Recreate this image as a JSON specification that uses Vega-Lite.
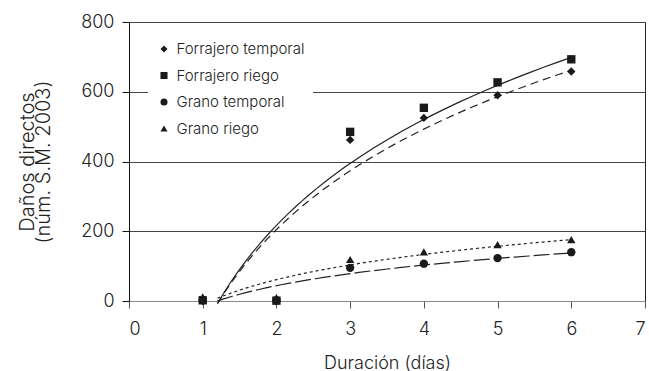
{
  "$schema": "https://vega.github.io/schema/vega-lite/v6.json",
  "width": 516,
  "height": 279,
  "autosize": {"type": "none"},
  "padding": {"left": 129, "top": 22, "right": 4, "bottom": 70},
  "background": "white",
  "config": {
    "view": {"stroke": "#222", "strokeWidth": 1},
    "axis": {
      "labelFont": "Inter",
      "titleFont": "Inter",
      "labelFontWeight": 300,
      "titleFontWeight": 300,
      "labelColor": "#222",
      "titleColor": "#222",
      "labelFontSize": 18
    },
    "line": {"color": "#222", "strokeWidth": 1.2, "clip": true}
  },
  "data": {
    "values": [
      {"serie": "Forrajero temporal", "x": 1, "y": 0},
      {"serie": "Forrajero temporal", "x": 2, "y": 0},
      {"serie": "Forrajero temporal", "x": 3, "y": 462},
      {"serie": "Forrajero temporal", "x": 4, "y": 525},
      {"serie": "Forrajero temporal", "x": 5, "y": 590},
      {"serie": "Forrajero temporal", "x": 6, "y": 658},
      {"serie": "Forrajero riego", "x": 1, "y": 2},
      {"serie": "Forrajero riego", "x": 2, "y": 1},
      {"serie": "Forrajero riego", "x": 3, "y": 485},
      {"serie": "Forrajero riego", "x": 4, "y": 554},
      {"serie": "Forrajero riego", "x": 5, "y": 627},
      {"serie": "Forrajero riego", "x": 6, "y": 693},
      {"serie": "Grano temporal", "x": 1, "y": 3},
      {"serie": "Grano temporal", "x": 2, "y": 2},
      {"serie": "Grano temporal", "x": 3, "y": 95},
      {"serie": "Grano temporal", "x": 4, "y": 107},
      {"serie": "Grano temporal", "x": 5, "y": 123},
      {"serie": "Grano temporal", "x": 6, "y": 140},
      {"serie": "Grano riego", "x": 1, "y": 12},
      {"serie": "Grano riego", "x": 2, "y": 10},
      {"serie": "Grano riego", "x": 3, "y": 119},
      {"serie": "Grano riego", "x": 4, "y": 141},
      {"serie": "Grano riego", "x": 5, "y": 162},
      {"serie": "Grano riego", "x": 6, "y": 176}
    ]
  },
  "encoding": {
    "x": {
      "field": "x",
      "type": "quantitative",
      "scale": {"domain": [0, 7], "nice": false},
      "axis": {
        "title": "Duración (días)",
        "values": [0, 1, 2, 3, 4, 5, 6, 7],
        "grid": false,
        "domainColor": "#888",
        "tickColor": "#555",
        "tickSize": 7,
        "labelPadding": 12,
        "titleFontSize": 18,
        "titlePadding": 16
      }
    },
    "y": {
      "field": "y",
      "type": "quantitative",
      "scale": {"domain": [0, 800], "nice": false},
      "axis": {
        "title": ["Daños directos", "(núm.  S.M. 2003)"],
        "values": [0, 200, 400, 600, 800],
        "grid": true,
        "gridColor": {"condition": {"test": "datum.value === 0", "value": "#888"}, "value": "#444"},
        "domainColor": "#111",
        "tickColor": "#111",
        "tickSize": 7,
        "labelPadding": 8,
        "titleFontSize": 20,
        "titleLineHeight": 16,
        "titlePadding": 27
      }
    }
  },
  "layer": [
    {
      "transform": [
        {"filter": "datum.serie === 'Forrajero temporal'"},
        {"regression": "y", "on": "x", "method": "log", "extent": [1.2, 6]}
      ],
      "mark": {"type": "line", "strokeDash": [8, 5]},
      "encoding": {}
    },
    {
      "transform": [
        {"filter": "datum.serie === 'Forrajero riego'"},
        {"regression": "y", "on": "x", "method": "log", "extent": [1.2, 6]}
      ],
      "mark": {"type": "line"},
      "encoding": {}
    },
    {
      "transform": [
        {"filter": "datum.serie === 'Grano temporal'"},
        {"regression": "y", "on": "x", "method": "log", "extent": [1.2, 6]}
      ],
      "mark": {"type": "line", "strokeDash": [16, 4]},
      "encoding": {}
    },
    {
      "transform": [
        {"filter": "datum.serie === 'Grano riego'"},
        {"regression": "y", "on": "x", "method": "log", "extent": [1.2, 6]}
      ],
      "mark": {"type": "line", "strokeDash": [3, 3]},
      "encoding": {}
    },
    {
      "mark": {"type": "point", "filled": true, "color": "#1a1a1a", "opacity": 1, "size": 70},
      "encoding": {
        "shape": {
          "field": "serie",
          "type": "nominal",
          "scale": {
            "domain": ["Forrajero temporal", "Forrajero riego", "Grano temporal", "Grano riego"],
            "range": ["diamond", "square", "circle", "triangle-up"]
          },
          "legend": {
            "title": null,
            "orient": "none",
            "legendX": 19,
            "legendY": 11,
            "fillColor": "white",
            "padding": 8.5,
            "labelFont": "Inter",
            "labelFontWeight": 300,
            "labelFontSize": 15,
            "labelColor": "#222",
            "symbolSize": 50,
            "symbolFillColor": "#1a1a1a",
            "symbolStrokeWidth": 0,
            "rowPadding": 10.5,
            "labelOffset": 5
          }
        }
      }
    }
  ]
}
